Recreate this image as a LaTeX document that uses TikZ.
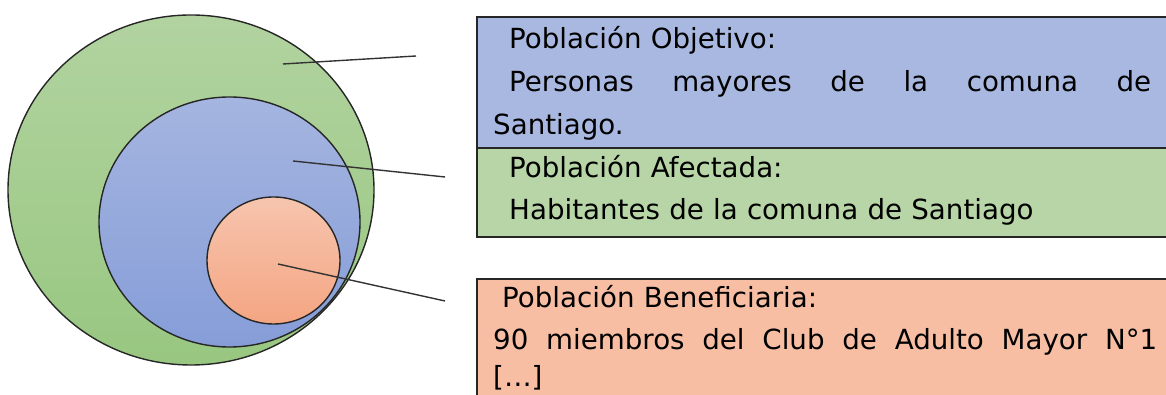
\documentclass[tikz,border=0pt]{standalone}
\usepackage{fontspec}
\setmainfont{DejaVu Sans}
\usepackage{xcolor}
\usepackage{tikz}

\definecolor{greenTop}{RGB}{178,211,160}
\definecolor{greenBot}{RGB}{152,199,129}
\definecolor{blueTop}{RGB}{165,181,224}
\definecolor{blueBot}{RGB}{134,157,216}
\definecolor{orangeTop}{RGB}{246,197,174}
\definecolor{orangeBot}{RGB}{244,165,130}
\definecolor{boxBlue}{RGB}{168,184,224}
\definecolor{boxGreen}{RGB}{183,213,166}
\definecolor{boxOrange}{RGB}{247,190,164}

\tikzset{
  popcircle/.style={draw=black!85, line width=1.4pt},
  popbox/.style={draw=black!85, line width=2pt, anchor=north west, inner sep=0pt, minimum width=720pt},
  poptext/.style={anchor=base west, inner sep=0pt, text width=700pt, align=left, font=\fontsize{27.7}{#1}\selectfont},
  pointer/.style={draw=black!80, line width=1.4pt}
}

\begin{document}
\begin{tikzpicture}[x=1pt, y=1pt]
    \path[use as bounding box, clip] (0,0) rectangle (1166,395);

    % circulos (poblaciones)
    \path[popcircle, top color=greenTop, bottom color=greenBot] (191,205) ellipse [x radius=183, y radius=175];
    \path[popcircle, top color=blueTop, bottom color=blueBot] (229.5,173) ellipse [x radius=130.5, y radius=125];
    \path[popcircle, top color=orangeTop, bottom color=orangeBot] (273.5,134.5) ellipse [x radius=66.5, y radius=63.5];

    % puntos de las lineas
    \coordinate (inObj) at (283,331);
    \coordinate (outObj) at (416,339);
    \coordinate (inAfe) at (293,234);
    \coordinate (outAfe) at (445,218);
    \coordinate (inBen) at (278,131);
    \coordinate (outBen) at (445,94);

    \draw[pointer] (inObj) -- (outObj);
    \draw[pointer] (inAfe) -- (outAfe);
    \draw[pointer] (inBen) -- (outBen);

    % cuadros de texto
    \node[popbox, fill=boxBlue, minimum height=131pt] (boxObj) at (476,379) {};
    \node[popbox, fill=boxGreen, minimum height=89pt] (boxAfe) at (476,248) {};
    \node[popbox, fill=boxOrange, minimum height=140pt] (boxBen) at (476,117) {};

    \node[poptext=43pt] (txtObj) at (493,346)
      {\hspace*{16pt}Población Objetivo:\\
       \makebox[658pt][l]{\hspace{16pt}Personas\hfill mayores\hfill de\hfill la\hfill comuna\hfill de}\\
       Santiago.};
    \node[poptext=42pt] (txtAfe) at (493,217)
      {\hspace*{16pt}Población Afectada:\\
       \hspace*{16pt}Habitantes de la comuna de Santiago};
    \node[poptext=42pt] (txtBen) at (493,87)
      {\hspace*{9pt}Población Beneficiaria:\\
       \makebox[664pt][l]{90\hfill miembros\hfill del\hfill Club\hfill de\hfill Adulto\hfill Mayor\hfill N°1}\\[-5pt]
       \relax[…]};
\end{tikzpicture}
\end{document}
